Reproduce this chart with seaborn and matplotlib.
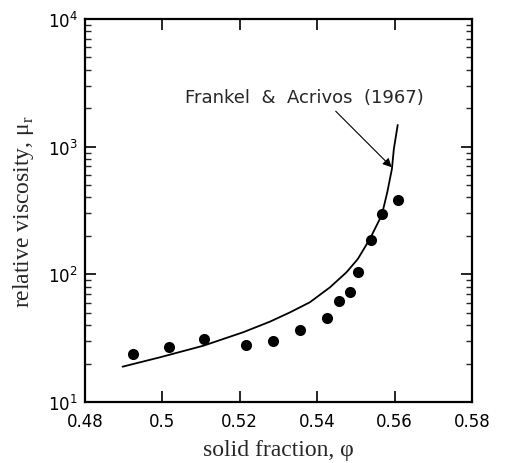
import matplotlib
matplotlib.use("Agg")
import matplotlib.pyplot as plt
from matplotlib.ticker import LogLocator, FixedLocator, NullFormatter
import seaborn as sns
import pandas as pd

# measured relative viscosity vs solid fraction
phi_data = [0.4924, 0.5017, 0.5107, 0.5216, 0.5285, 0.5356, 0.5426,
            0.5456, 0.5486, 0.5506, 0.5538, 0.5568, 0.5608]
mu_data = [23.8, 27.0, 31.2, 28.1, 30.3, 36.9, 45.6,
           62.2, 73.3, 104.5, 187.0, 297.0, 383.0]

# Frankel & Acrivos (1967) prediction
phi_fa = [0.4897, 0.4994, 0.5106, 0.5209, 0.5278, 0.5330, 0.5381, 0.5433,
          0.5476, 0.5505, 0.5536, 0.5567, 0.5581, 0.5593, 0.5598, 0.5608]
mu_fa = [18.9, 22.4, 27.6, 35.2, 42.6, 50.4, 60.4, 79.1,
         104.0, 132.0, 189.0, 292.0, 439.0, 668.0, 959.0, 1479.0]

x_ticks = [0.48, 0.50, 0.52, 0.54, 0.56, 0.58]
x_ticklabels = ["0.48", "0.5", "0.52", "0.54", "0.56", "0.58"]
curve_label = "Frankel  &  Acrivos  (1967)"

sns.set_style("ticks")
plt.rcParams["font.family"] = ["DejaVu Sans"]
plt.rcParams["mathtext.fontset"] = "dejavusans"

df_pts = pd.DataFrame({"phi": phi_data, "mu": mu_data})
df_fa = pd.DataFrame({"phi": phi_fa, "mu": mu_fa})

fig = plt.figure(figsize=(5.05, 4.64), dpi=100)
ax = fig.add_axes([0.1683, 0.1315, 0.7664, 0.8254])

sns.lineplot(data=df_fa, x="phi", y="mu", ax=ax, color="black",
             linewidth=1.3, sort=False, estimator=None)
sns.scatterplot(data=df_pts, x="phi", y="mu", ax=ax, color="black",
                s=64, edgecolor="black", linewidth=0, zorder=3)

ax.set_yscale("log")
ax.set_xlim(0.48, 0.58)
ax.set_ylim(10, 1e4)
ax.xaxis.set_major_locator(FixedLocator(x_ticks))
ax.set_xticklabels(x_ticklabels)
ax.yaxis.set_major_locator(LogLocator(base=10, numticks=10))
ax.yaxis.set_minor_locator(LogLocator(base=10, subs=range(2, 10), numticks=10))
ax.yaxis.set_minor_formatter(NullFormatter())

ax.tick_params(axis="both", which="major", direction="in", length=8, width=1.2,
               top=True, right=True, labelsize=12, pad=5, colors="black")
ax.tick_params(axis="x", which="major", pad=7)
ax.tick_params(axis="y", which="minor", direction="in", length=4.5, width=1.0,
               right=True)
ax.tick_params(axis="x", which="minor", bottom=False, top=False)
for sp in ax.spines.values():
    sp.set_linewidth(1.6)
    sp.set_color("black")

serif = ["Liberation Serif", "DejaVu Serif"]
ax.set_xlabel("solid fraction, φ", family=serif, fontsize=17, labelpad=7)
ax.set_ylabel(r"relative viscosity, μ$_\mathregular{r}$", family=serif,
              fontsize=17, labelpad=9)

ax.annotate(curve_label, xy=(0.55925, 690.0), xytext=(0.5058, 2450),
            fontsize=13, ha="left", va="center",
            arrowprops=dict(arrowstyle="-|>", color="black", lw=0.8,
                            mutation_scale=13, shrinkA=2, shrinkB=0,
                            relpos=(0.61, 0.0)))

fig.savefig("out.png", dpi=100, facecolor="white")
